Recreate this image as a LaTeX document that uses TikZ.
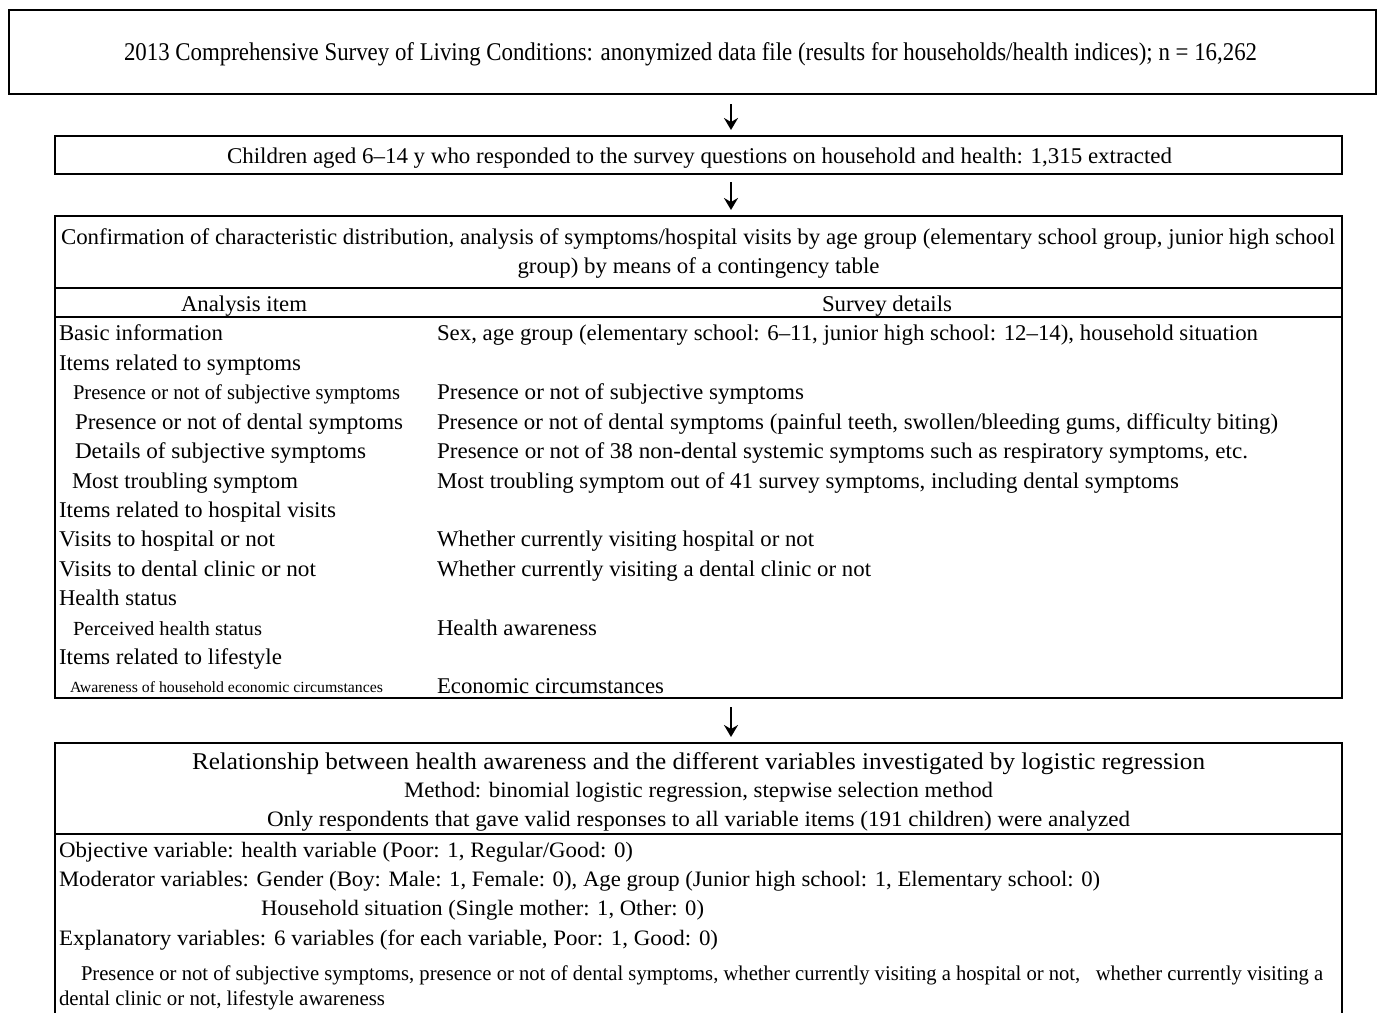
\documentclass[tikz,border=0pt]{standalone}
\usepackage{fontspec}
\setmainfont{Liberation Serif}
\usetikzlibrary{arrows.meta}
\newcommand\fw[2]{\resizebox{#1pt}{\height}{#2}}
\newcommand\fsz[1]{\fontsize{#1}{#1}\selectfont}
\begin{document}
\begin{tikzpicture}[x=1pt,y=-1pt,
  box/.style={draw, line width=2pt, rectangle, inner sep=0pt, outer sep=0pt},
  txt/.style={inner sep=0pt, outer sep=0pt, anchor=base west},
  txtc/.style={inner sep=0pt, outer sep=0pt, anchor=base},
  arr/.style={line width=2pt, -{Stealth[length=12pt,width=14pt,inset=4pt]}},
  rule/.style={line width=2pt}]
\useasboundingbox (0,0) rectangle (1380,1012);
% boxes
\node[box, minimum width=1367pt, minimum height=84pt] (b1) at (692.5,52) {};
\node[box, minimum width=1287pt, minimum height=38pt] (b2) at (698.5,155) {};
\node[box, minimum width=1287pt, minimum height=482pt] (b3) at (698.5,457) {};
\node[box, minimum width=1287pt, minimum height=273pt] (b4) at (698.5,879.5) {};
% arrows
\coordinate (ax) at (731,0);
\draw[arr] ([yshift=-10pt]b1.south -| ax) -- ([yshift=6pt]b2.north -| ax);
\draw[arr] ([yshift=-8pt]b2.south -| ax) -- ([yshift=6pt]b3.north -| ax);
\draw[arr] ([yshift=-9pt]b3.south -| ax) -- ([yshift=6pt]b4.north -| ax);
% rules
\coordinate (h1) at (0,288);
\coordinate (h2) at (0,317);
\coordinate (h3) at (0,834);
\draw[line width=1.5pt] (b3.west |- h1) -- (b3.east |- h1);
\draw[rule] (b3.west |- h2) -- (b3.east |- h2);
\draw[rule] (b4.west |- h3) -- (b4.east |- h3);
% box 1 and 2 text
\node[txt] (t1) at (124,60) {\fsz{25.5}\fw{1133}{2013 Comprehensive Survey of Living Conditions: anonymized data file (results for households/health indices); n = 16,262}};
\node[txt] (t2) at (227,163) {\fsz{22.5}\fw{945}{Children aged 6–14 y who responded to the survey questions on household and health: 1,315 extracted}};
% box 3 title
\node[txt] (t3a) at (61,244.5) {\fsz{22.5}\fw{1274}{Confirmation of characteristic distribution, analysis of symptoms/hospital visits by age group (elementary school group, junior high school}};
\node[txtc] (t3b) at (698.5,273.5) {\fsz{22.5}\fw{362}{group) by means of a contingency table}};
% header
\node[txtc] (hA) at (244,311.5) {\fsz{22.5}\fw{126}{Analysis item}};
\node[txtc] (hS) at (887,311.5) {\fsz{22.5}\fw{130}{Survey details}};
% column 1
\node[txt] (c1) at (59,340.5) {\fsz{22.5}\fw{164}{Basic information}};
\node[txt] (c2) at (59,370) {\fsz{22.5}\fw{242}{Items related to symptoms}};
\node[txt] (c3) at (73,399.5) {\fsz{21}\fw{327}{Presence or not of subjective symptoms}};
\node[txt] (c4) at (75,429) {\fsz{22.5}\fw{328}{Presence or not of dental symptoms}};
\node[txt] (c5) at (75,458.5) {\fsz{22.5}\fw{291}{Details of subjective symptoms}};
\node[txt] (c6) at (72,488) {\fsz{22.5}\fw{226}{Most troubling symptom}};
\node[txt] (c7) at (59,517.5) {\fsz{22.5}\fw{277}{Items related to hospital visits}};
\node[txt] (c8) at (59,546.5) {\fsz{22.5}\fw{216}{Visits to hospital or not}};
\node[txt] (c9) at (59,576) {\fsz{22.5}\fw{257}{Visits to dental clinic or not}};
\node[txt] (c10) at (59,605.5) {\fsz{22.5}\fw{118}{Health status}};
\node[txt] (c11) at (73,635) {\fsz{20}\fw{189}{Perceived health status}};
\node[txt] (c12) at (59,664.5) {\fsz{22.5}\fw{223}{Items related to lifestyle}};
\node[txt] (c13) at (70,692) {\fsz{15.5}\fw{313}{Awareness of household economic circumstances}};
% column 2
\node[txt] (d1) at (437,340.5) {\fsz{22.5}\fw{821}{Sex, age group (elementary school: 6–11, junior high school: 12–14), household situation}};
\node[txt] (d3) at (437,399.5) {\fsz{22.5}\fw{367}{Presence or not of subjective symptoms}};
\node[txt] (d4) at (437,429) {\fsz{22.5}\fw{841}{Presence or not of dental symptoms (painful teeth, swollen/bleeding gums, difficulty biting)}};
\node[txt] (d5) at (437,458.5) {\fsz{22.5}\fw{811}{Presence or not of 38 non-dental systemic symptoms such as respiratory symptoms, etc.}};
\node[txt] (d6) at (437,488) {\fsz{22.5}\fw{742}{Most troubling symptom out of 41 survey symptoms, including dental symptoms}};
\node[txt] (d8) at (437,546.5) {\fsz{22.5}\fw{377}{Whether currently visiting hospital or not}};
\node[txt] (d9) at (437,576) {\fsz{22.5}\fw{434}{Whether currently visiting a dental clinic or not}};
\node[txt] (d11) at (437,635) {\fsz{22.5}\fw{160}{Health awareness}};
\node[txt] (d13) at (437,693.5) {\fsz{22.5}\fw{227}{Economic circumstances}};
% box 4
\node[txt] (e1) at (192,769) {\fsz{24}\fw{1013}{Relationship between health awareness and the different variables investigated by logistic regression}};
\node[txt] (e2) at (404,797.5) {\fsz{22}\fw{589}{Method: binomial logistic regression, stepwise selection method}};
\node[txt] (e3) at (267,826.5) {\fsz{22}\fw{863}{Only respondents that gave valid responses to all variable items (191 children) were analyzed}};
\node[txt] (f1) at (59,857.5) {\fsz{22}\fw{574}{Objective variable: health variable (Poor: 1, Regular/Good: 0)}};
\node[txt] (f2) at (59,886.5) {\fsz{22}\fw{1041}{Moderator variables: Gender (Boy: Male: 1, Female: 0), Age group (Junior high school: 1, Elementary school: 0)}};
\node[txt] (f3) at (261,915.5) {\fsz{22}\fw{443}{Household situation (Single mother: 1, Other: 0)}};
\node[txt] (f4) at (59,945.5) {\fsz{22}\fw{659}{Explanatory variables: 6 variables (for each variable, Poor: 1, Good: 0)}};
\node[txt] (f5) at (81,980) {\fsz{21}\fw{1242}{Presence or not of subjective symptoms, presence or not of dental symptoms, whether currently visiting a hospital or not,\ \ \ whether currently visiting a}};
\node[txt] (f6) at (59,1005) {\fsz{21}\fw{326}{dental clinic or not, lifestyle awareness}};
\end{tikzpicture}
\end{document}
